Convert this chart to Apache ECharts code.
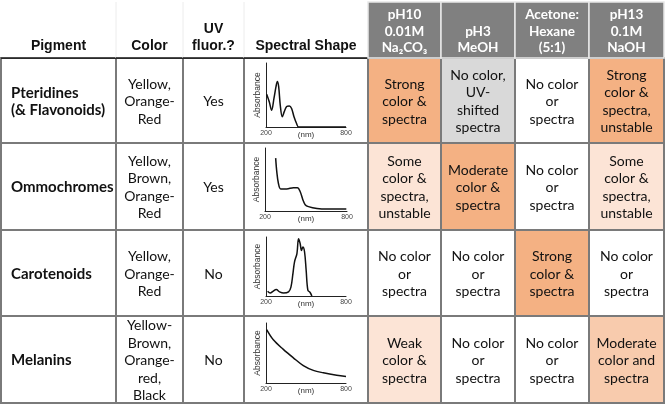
<!DOCTYPE html>
<html>
<head>
<meta charset="utf-8">
<script src="https://cdn.jsdelivr.net/npm/echarts@6/dist/echarts.min.js"></script>
<style>
  html, body { margin: 0; padding: 0; background: #fff; }
  #chart { width: 666px; height: 406px; }
</style>
</head>
<body>
<div id="chart"></div>
<script>
// table content
var headLeft = ['Pigment', 'Color', 'UV\nfluor.?', 'Spectral Shape'];
var solvents = ['pH10\n0.01M\nNa\u2082CO\u2083', 'pH3\nMeOH', 'Acetone:\nHexane\n(5:1)', 'pH13\n0.1M\nNaOH'];
var pigments = ['Pteridines\n(& Flavonoids)', 'Ommochromes', 'Carotenoids', 'Melanins'];
var pigmentColors = ['Yellow,\nOrange-\nRed', 'Yellow,\nBrown,\nOrange-\nRed', 'Yellow,\nOrange-\nRed', 'Yellow-\nBrown,\nOrange-\nred,\nBlack'];
var uvFluor = ['Yes', 'Yes', 'No', 'No'];
var responses = [
  ['Strong\ncolor &\nspectra', 'No color,\nUV-\nshifted\nspectra', 'No color\nor\nspectra', 'Strong\ncolor &\nspectra,\nunstable'],
  ['Some\ncolor &\nspectra,\nunstable', 'Moderate\ncolor &\nspectra', 'No color\nor\nspectra', 'Some\ncolor &\nspectra,\nunstable'],
  ['No color\nor\nspectra', 'No color\nor\nspectra', 'Strong\ncolor &\nspectra', 'No color\nor\nspectra'],
  ['Weak\ncolor &\nspectra', 'No color\nor\nspectra', 'No color\nor\nspectra', 'Moderate\ncolor and\nspectra']
];
// 0 none, 1 weak, 2 moderate, 3 strong, 4 shifted
var levels = [
  [3, 4, 0, 3],
  [1, 3, 0, 1],
  [0, 0, 3, 0],
  [1, 0, 0, 2]
];

// spectral shapes [nm, relative absorbance]
var pteridineSpec = [[205,0.51],[225,0.39],[242,0.26],[260,0.45],[275,0.63],[285,0.71],[295,0.63],[307,0.34],[322,0.16],[337,0.24],[355,0.32],[375,0.33],[392,0.29],[410,0.16],[430,0.05],[445,0],[800,0]];
var ommochromeSpec = [[278,0.84],[286,0.63],[298,0.44],[315,0.35],[359,0.35],[408,0.37],[438,0.37],[457,0.31],[477,0.18],[494,0.10],[518,0.07],[580,0.04],[653,0.03],[727,0.03],[795,0.03]];
var carotenoidSpec = [[212,0.08],[232,0.05],[252,0.08],[277,0.11],[302,0.07],[332,0.05],[369,0.07],[387,0.15],[402,0.38],[414,0.58],[432,0.72],[444,0.97],[456,0.89],[466,0.77],[476,0.83],[489,0.75],[501,0.44],[514,0.10],[531,0.06],[544,0]];
var melaninSpec = [[205,0.89],[255,0.72],[330,0.56],[405,0.42],[480,0.29],[555,0.21],[630,0.17],[730,0.13],[800,0.11]];
var spectra = [pteridineSpec, ommochromeSpec, carotenoidSpec, melaninSpec];

// layout
var colEdges = [1, 116, 183, 244, 368, 441, 515, 589, 664];
var rowEdges = [2, 58, 143, 230, 316, 403];
var levelFill = ['#ffffff', '#fce4d6', '#f8cbad', '#f4b183', '#d9d9d9'];
var specBoxes = [
  { left: 266, top: 63, width: 80, height: 64 },
  { left: 265, top: 148, width: 82, height: 63 },
  { left: 266, top: 237, width: 80, height: 59 },
  { left: 266, top: 323, width: 80, height: 60 }
];
var bodyFont = 'Lato';

var cells = [];
for (var r = 0; r < 4; r++) {
  cells.push({ col: 0, row: r + 1, text: pigments[r], bold: true, left: true, fill: '#fff' });
  cells.push({ col: 1, row: r + 1, text: pigmentColors[r], fill: '#fff' });
  cells.push({ col: 2, row: r + 1, text: uvFluor[r], fill: '#fff' });
  cells.push({ col: 3, row: r + 1, text: '', fill: '#fff' });
  for (var k = 0; k < 4; k++) {
    cells.push({ col: 4 + k, row: r + 1, text: responses[r][k], fill: levelFill[levels[r][k]] });
  }
}
for (var c = 0; c < 4; c++) {
  cells.push({ col: c, row: 0, text: headLeft[c], head: 'left' });
}
for (var s = 0; s < 4; s++) {
  cells.push({ col: 4 + s, row: 0, text: solvents[s], head: 'right' });
}

function renderCell(params, api) {
  var cell = cells[params.dataIndex];
  var p0 = api.coord([colEdges[cell.col], rowEdges[cell.row]]);
  var p1 = api.coord([colEdges[cell.col + 1], rowEdges[cell.row + 1]]);
  var x = p0[0], y = p0[1], w = p1[0] - p0[0], h = p1[1] - p0[1];
  var children = [];
  if (cell.head === 'left') {
    children.push({ type: 'rect', shape: { x: x, y: y, width: w, height: h }, style: { fill: '#fff', stroke: null } });
    if (cell.col > 0) {
      children.push({ type: 'line', shape: { x1: x, y1: y, x2: x, y2: y + h }, style: { stroke: '#ececec', lineWidth: 1 } });
    }
    children.push({ type: 'line', shape: { x1: x, y1: y + h, x2: x + w, y2: y + h }, style: { stroke: '#111', lineWidth: 1.5 } });
    children.push({ type: 'text', style: { text: cell.text, x: x + w / 2, y: y + h - 3, align: 'center', verticalAlign: 'bottom',
      fontFamily: 'Liberation Sans', fontWeight: 'bold', fontSize: 14, lineHeight: 17, fill: '#111' } });
  } else if (cell.head === 'right') {
    children.push({ type: 'rect', shape: { x: x, y: y, width: w, height: h }, style: { fill: '#808080', stroke: '#e8e8e8', lineWidth: 1.5 } });
    children.push({ type: 'text', style: { text: cell.text, x: x + w / 2, y: y + h - 2, align: 'center', verticalAlign: 'bottom',
      fontFamily: bodyFont, fontWeight: 'bold', fontSize: 13.5, lineHeight: 16.5, fill: '#fff' } });
  } else {
    children.push({ type: 'rect', shape: { x: x, y: y, width: w, height: h }, style: { fill: cell.fill, stroke: '#7a7a7a', lineWidth: 2 } });
    children.push({ type: 'text', style: { text: cell.text, x: cell.left ? x + 10 : x + w / 2, y: y + h / 2 + 1,
      align: cell.left ? 'left' : 'center', verticalAlign: 'middle',
      fontFamily: bodyFont, fontWeight: cell.bold ? 'bold' : 'normal', fontSize: cell.bold ? 15 : 14, lineHeight: 17.5, fill: '#111' } });
  }
  return { type: 'group', children: children };
}

var grids = [{ left: 0, top: 0, width: 666, height: 406 }];
var xAxes = [{ type: 'value', gridIndex: 0, min: 0, max: 666, show: false }];
var yAxes = [{ type: 'value', gridIndex: 0, min: 0, max: 406, inverse: true, show: false }];
var series = [{
  type: 'custom',
  xAxisIndex: 0,
  yAxisIndex: 0,
  renderItem: renderCell,
  data: cells.map(function (cl) { return [colEdges[cl.col], rowEdges[cl.row]]; }),
  silent: true,
  z: 0
}];

specBoxes.forEach(function (b, i) {
  var gi = i + 1;
  grids.push({ left: b.left, top: b.top, width: b.width, height: b.height });
  xAxes.push({
    type: 'value', gridIndex: gi, min: 200, max: 800, interval: 600, z: 4,
    axisLine: { show: true, onZero: false, lineStyle: { color: '#222', width: 1 } },
    axisTick: { show: false }, splitLine: { show: false },
    axisLabel: { fontSize: 7, color: '#444', margin: 3, fontFamily: 'Liberation Sans' },
    name: '(nm)', nameLocation: 'middle', nameGap: 4, nameMoveOverlap: false,
    nameTextStyle: { fontSize: 8, color: '#333', fontFamily: 'Liberation Sans' }
  });
  yAxes.push({
    type: 'value', gridIndex: gi, min: 0, max: 1, z: 4,
    axisLine: { show: true, onZero: false, lineStyle: { color: '#222', width: 1 } },
    axisTick: { show: false }, splitLine: { show: false }, axisLabel: { show: false },
    name: 'Absorbance', nameLocation: 'middle', nameGap: 4, nameMoveOverlap: false,
    nameTextStyle: { fontSize: 8.5, color: '#333', fontFamily: 'Liberation Sans' }
  });
  series.push({
    type: 'line', xAxisIndex: gi, yAxisIndex: gi,
    data: spectra[i], showSymbol: false, smooth: 0.35,
    lineStyle: { color: '#111', width: 1.5 },
    silent: true, z: 5
  });
});

var chart = echarts.init(document.getElementById('chart'));
chart.setOption({
  backgroundColor: '#fff',
  animation: false,
  grid: grids,
  xAxis: xAxes,
  yAxis: yAxes,
  series: series
});
</script>
</body>
</html>
